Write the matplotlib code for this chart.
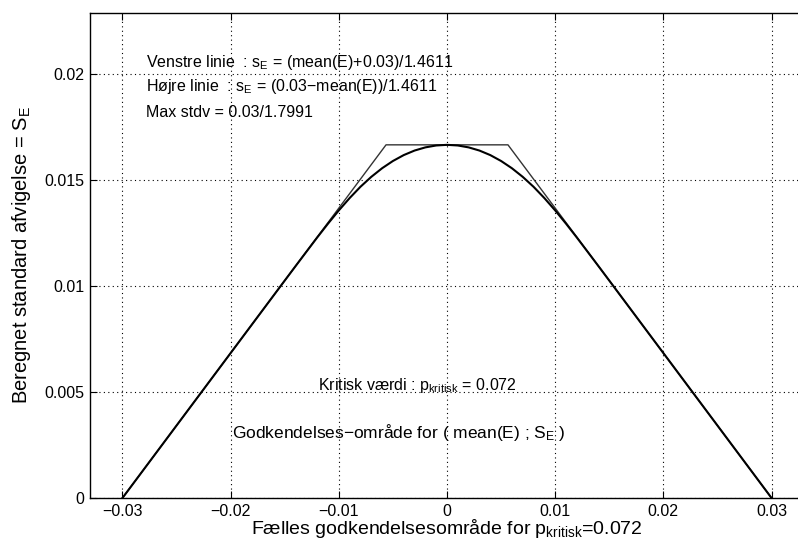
import matplotlib
matplotlib.use('Agg')
import matplotlib.pyplot as plt
import numpy as np

plt.rcParams['font.family'] = ['Liberation Sans', 'DejaVu Sans']
plt.rcParams['mathtext.fontset'] = 'custom'
plt.rcParams['mathtext.rm'] = 'Liberation Sans'
plt.rcParams['mathtext.it'] = 'Liberation Sans'
plt.rcParams['mathtext.default'] = 'regular'

# Data: boundary curve (mean(E), s_E)
curve_x = [-0.030, -0.020, -0.016, -0.015, -0.014, -0.013, -0.012, -0.011, -0.010,
           -0.009, -0.008, -0.007, -0.006, -0.005, -0.004, -0.003, -0.002, -0.001,
           0.000, 0.001, 0.002, 0.003, 0.004, 0.005, 0.006, 0.007, 0.008, 0.009,
           0.010, 0.011, 0.012, 0.013, 0.014, 0.015, 0.016, 0.020, 0.030]
curve_y = [0.0, 0.006844, 0.009582, 0.010266, 0.010948, 0.011625, 0.012300, 0.012954,
           0.013579, 0.014162, 0.014695, 0.015163, 0.015570, 0.015912, 0.016191,
           0.016405, 0.016555, 0.016645, 0.016675, 0.016645, 0.016555, 0.016405,
           0.016191, 0.015912, 0.015570, 0.015163, 0.014695, 0.014162, 0.013579,
           0.012954, 0.012300, 0.011625, 0.010948, 0.010266, 0.009582, 0.006844, 0.0]

# Envelope lines: left line, max stdv, right line
env_x = [-0.030, -0.005636, 0.005636, 0.030]
env_y = [0.0, 0.016675, 0.016675, 0.0]

x_ticks = [-0.03, -0.02, -0.01, 0, 0.01, 0.02, 0.03]
x_ticklabels = ['\u22120.03', '\u22120.02', '\u22120.01', '0', '0.01', '0.02', '0.03']
y_ticks = [0, 0.005, 0.01, 0.015, 0.02]
y_ticklabels = ['0', '0.005', '0.01', '0.015', '0.02']

fig = plt.figure(figsize=(7.98, 5.39), dpi=100)
ax = fig.add_axes([90 / 798, 41 / 539, 714 / 798, 485 / 539])

ax.plot(env_x, env_y, color='#333333', lw=1.0)
ax.plot(curve_x, curve_y, color='black', lw=1.5)

ax.set_xlim(-0.033, 0.033)
ax.set_ylim(0, 0.0229)
ax.set_xticks(x_ticks)
ax.set_xticklabels(x_ticklabels, fontsize=11.5)
ax.set_yticks(y_ticks)
ax.set_yticklabels(y_ticklabels, fontsize=11.5)
ax.tick_params(direction='in', length=5, width=0.8, top=True, right=True, pad=4)
ax.grid(True, linestyle=(0, (1, 3)), color='black', lw=0.8)
for s in ax.spines.values():
    s.set_linewidth(1.0)

ax.set_xlabel('Fælles godkendelsesområde for p$_{kritisk}$=0.072', fontsize=14, labelpad=-1)
ax.set_ylabel('Beregnet standard afvigelse = S$_E$', fontsize=14.5, labelpad=8)

ax.text(-0.02786, 0.02057, 'Venstre linie  : s$_E$ = (mean(E)+0.03)/1.4611', fontsize=11.5, va='center')
ax.text(-0.02786, 0.01943, 'Højre linie  : s$_E$ = (0.03\u2212mean(E))/1.4611', fontsize=11.5, va='center')
ax.text(-0.02786, 0.01821, 'Max stdv = 0.03/1.7991', fontsize=11.5, va='center')
ax.text(-0.0119, 0.00533, 'Kritisk værdi : p$_{kritisk}$ = 0.072', fontsize=11.5, va='center')
ax.text(-0.01983, 0.00311, 'Godkendelses\u2212område for ( mean(E) ; S$_E$ )', fontsize=12.5, va='center')

plt.savefig('out.png', dpi=100)
